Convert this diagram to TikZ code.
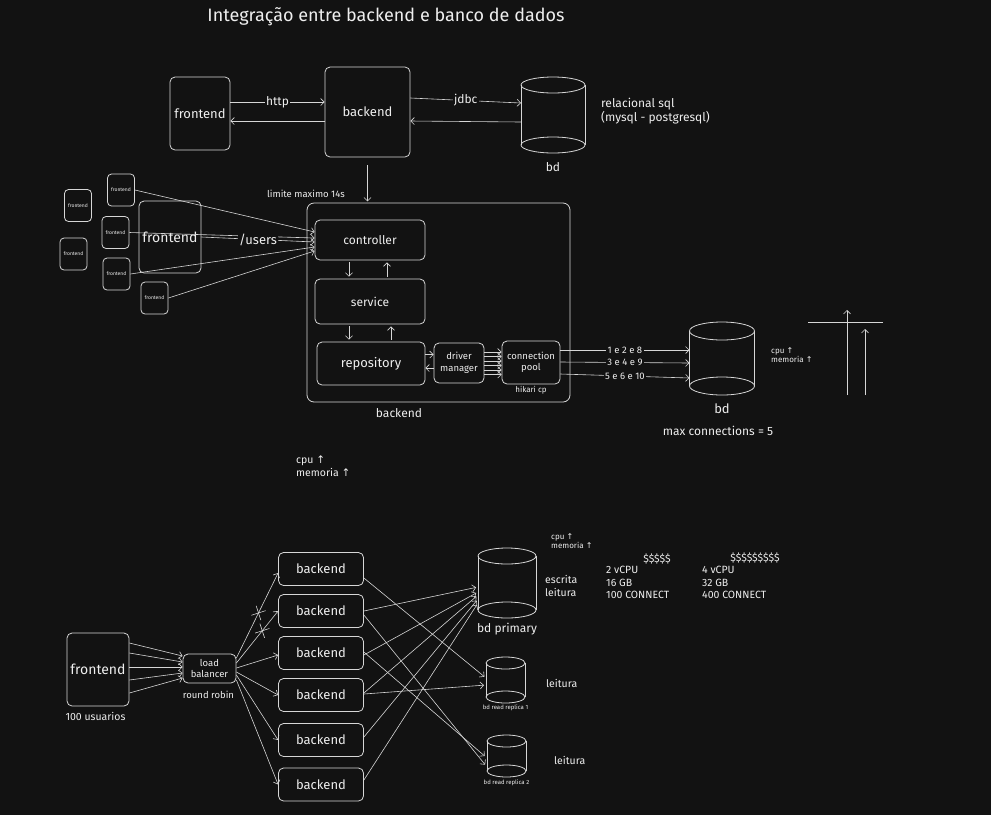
\documentclass[tikz,border=0pt]{standalone}
\usepackage{fontspec}
\setmainfont{Fira Sans}
\newfontfamily\symfont{DejaVu Sans}
\usepackage{tikz}
\usetikzlibrary{positioning,calc,arrows.meta,shapes.misc}
\definecolor{bgc}{HTML}{121212}
\definecolor{linec}{HTML}{D6D6D6}
\definecolor{txtc}{HTML}{EEEEEE}
\newcommand{\upar}{{\symfont ↑}}
% cylinder: name, position, width, height, ellipse radius
\newcommand{\dbcyl}[5]{%
  \node[minimum width=#3, minimum height=#4, inner sep=0pt, outer sep=0pt] (#1) at #2 {};
  \draw[dbline] ([yshift=-#5pt]#1.north) ellipse [x radius={#3*0.5pt}, y radius=#5pt];
  \draw[dbline] ([yshift=#5pt]#1.south) ellipse [x radius={#3*0.5pt}, y radius=#5pt];
  \draw[dbline] ([yshift=-#5pt]#1.north west) -- ([yshift=#5pt]#1.south west);
  \draw[dbline] ([yshift=-#5pt]#1.north east) -- ([yshift=#5pt]#1.south east);
}
\tikzset{
  box/.style={draw=linec, rounded corners=5pt, line width=0.8pt, text=txtc, align=center, inner sep=0pt},
  arr/.style={draw=linec, line width=0.6pt, -{Straight Barb[length=3.5pt,width=7pt]}},
  dbline/.style={draw=linec, line width=0.8pt},
  lbl/.style={text=txtc, inner sep=1pt, align=center},
  onln/.style={lbl, fill=bgc, inner sep=1.5pt},
  ftitle/.style={font=\fontsize{18}{21}\selectfont},
  fhuge/.style={font=\fontsize{14}{16}\selectfont},
  fbig/.style={font=\fontsize{13}{15}\selectfont},
  fmid/.style={font=\fontsize{12}{14}\selectfont},
  fnote/.style={font=\fontsize{10.5}{12.5}\selectfont},
  fsmall/.style={font=\fontsize{9.5}{11.5}\selectfont},
  ftiny/.style={font=\fontsize{8}{9.5}\selectfont},
  fmini/.style={font=\fontsize{6}{7}\selectfont},
  fmicro/.style={font=\fontsize{5}{6}\selectfont},
  xmark/.style={cross out, draw=linec, line width=0.6pt, minimum size=10pt, inner sep=0pt, rotate=-27}
}
\begin{document}
\begin{tikzpicture}[x=1pt,y=-1pt]
%background
\fill[bgc] (0,0) rectangle (991,815);
\useasboundingbox (0,0) rectangle (991,815);

%title
\node[lbl, ftitle] (title) at (386,17) {Integração entre backend e banco de dados};

%top row
\node[box, fbig, minimum width=60, minimum height=73] (fe) at (200,113.5) {frontend};
\node[box, fbig, minimum width=85, minimum height=90] (be) at (367.5,112) {backend};
\dbcyl{bd}{(553,115)}{64}{76}{8}
\node[lbl, fmid, below=8pt of bd] (bdlbl) {bd};
\node[lbl, fmid, align=left, anchor=west] (sqltxt) at (600,111) {relacional sql\\(mysql - postgresql)};

\draw[arr] ([yshift=11.5pt]fe.east) -- node[onln, fmid]{http} ([yshift=11.5pt]fe.east -| be.west);
\draw[arr] ([yshift=-9pt]be.west) -- ([yshift=-9pt]be.west -| fe.east);
\draw[arr] ([yshift=14pt]be.east) -- node[onln, fmid]{jdbc} ([yshift=12pt]bd.west);
\draw[arr] ([yshift=-7pt]bd.west) -- ([yshift=-9pt]be.east);
\draw[arr] ([yshift=-8pt]be.south) -- ++(0,36) coordinate (betop);

%backend layers
\node[lbl, fsmall] (limite) at (306,194) {limite maximo 14s};
\node[box, rounded corners=7pt, minimum width=263, minimum height=199] (bigbe) at (438.5,302.5) {};
\node[lbl, fmid] (bigbelbl) at (399,413) {backend};
\node[box, fmid, minimum width=110, minimum height=40] (ctrl) at (370,240) {controller};
\node[box, fmid, minimum width=110, minimum height=45] (svc) at (370,301.5) {service};
\node[box, fbig, minimum width=108, minimum height=43] (repo) at (371,363.5) {repository};
\node[box, fsmall, minimum width=50, minimum height=40] (drv) at (459,363) {driver\\manager};
\node[box, fsmall, minimum width=58, minimum height=43] (pool) at (531,362.5) {connection\\pool};
\node[lbl, ftiny, below=1pt of pool] (hikari) {hikari cp};

\draw[arr] ([xshift=-21pt,yshift=-2pt]ctrl.south) -- ([xshift=-21pt,yshift=2pt]ctrl.south |- svc.north);
\draw[arr] ([xshift=17pt,yshift=2pt]svc.north) -- ([xshift=17pt,yshift=-2pt]svc.north |- ctrl.south);
\draw[arr] ([xshift=-21pt,yshift=-2pt]svc.south) -- ([xshift=-21pt,yshift=2pt]svc.south |- repo.north);
\draw[arr] ([xshift=20pt,yshift=2pt]repo.north) -- ([xshift=20pt,yshift=-2pt]repo.north |- svc.south);
\draw[arr] ([yshift=9pt]repo.east) -- ([yshift=9pt]repo.east -| drv.west);
\draw[arr] ([yshift=-5pt]drv.west) -- ([yshift=-5pt]drv.west -| repo.east);
\foreach \s in {11,6.5,2,-2.5,-7,-11.5}
  \draw[arr] ([yshift=\s pt]drv.east) -- ([yshift=\s pt]drv.east -| pool.west);

%database middle
\dbcyl{bdm}{(722,358.5)}{65}{73}{9}
\node[lbl, fbig, below=8pt of bdm] (bdmlbl) {bd};
\node[lbl, fmid] (maxconn) at (718,431) {max connections = 5};
\node[lbl, ftiny, align=left, anchor=west] (cpum) at (770,355) {cpu \upar\\memoria \upar};
\draw[arr] ([yshift=12.5pt]pool.east) -- node[onln, fsmall]{1 e 2 e 8} ([yshift=8.5pt]bdm.west);
\draw[arr] ([yshift=0.5pt]pool.east) -- node[onln, fsmall]{3 e 4 e 9} ([yshift=-4.5pt]bdm.west);
\draw[arr] ([yshift=-11.5pt]pool.east) -- node[onln, fsmall]{5 e 6 e 10} ([yshift=-19.5pt]bdm.west);

%scale sketch
\coordinate (hl1) at (808,322);
\coordinate (hl2) at (883,322);
\coordinate (va1) at (847,395);
\coordinate (va2) at (847,310);
\coordinate (vb1) at (865,395);
\coordinate (vb2) at (865,329);
\draw[dbline] (hl1) -- (hl2);
\draw[arr] (va1) -- (va2);
\draw[arr] (vb1) -- (vb2);

%frontends left
\node[box, fhuge, minimum width=62, minimum height=72] (febig) at (170,237) {frontend};
\foreach \n/\x/\y in {1/121/190,2/78/205.5,3/115.5/232.5,4/73.5/254,5/116.5/274,6/154.5/298}
  \node[box, fmicro, rounded corners=4pt, minimum width=27, minimum height=32] (fs\n) at (\x,\y) {frontend};
\draw[arr] (fs1.east) -- ([yshift=8pt]ctrl.west);
\draw[arr] (fs3.east) -- ([yshift=2pt]ctrl.west);
\draw[arr] (febig.east) -- node[onln, fbig]{/users} ([yshift=-2pt]ctrl.west);
\draw[arr] (fs5.east) -- ([yshift=-7pt]ctrl.west);
\draw[arr] (fs6.east) -- ([yshift=-11pt]ctrl.west);

\node[lbl, fnote, align=left, anchor=west] (cpu) at (295,466) {cpu \upar\\memoria \upar};

%load balancing
\node[box, fhuge, minimum width=62, minimum height=73] (fe3) at (98,669.5) {frontend};
\node[lbl, fnote] (users) at (95.5,716) {100 usuarios};
\node[box, fsmall, minimum width=53, minimum height=29] (lb) at (209.5,668.5) {load\\balancer};
\node[lbl, fsmall] (rr) at (208.5,695) {round robin};
\foreach \a/\b in {26.5/12.5,16.5/6.5,2.5/1.5,-10.5/-4.5,-23.5/-9.5}
  \draw[arr] ([yshift=\a pt]fe3.east) -- ([yshift=\b pt]lb.west);

\foreach \n/\y in {1/569,2/611,3/653,4/695,5/740,6/784.5}
  \node[box, fbig, minimum width=85, minimum height=33] (b\n) at (321,\y) {backend};
\draw[arr] ([yshift=10.5pt]lb.east) -- node[xmark, pos=0.53]{} ([yshift=-4pt]b1.west);
\draw[arr] ([yshift=5.5pt]lb.east) -- node[xmark, pos=0.62]{} (b2.west);
\draw[arr] ([yshift=0.5pt]lb.east) -- ([yshift=-2pt]b3.west);
\draw[arr] ([yshift=-3.5pt]lb.east) -- (b4.west);
\draw[arr] ([yshift=-6.5pt]lb.east) -- (b5.west);
\draw[arr] ([yshift=-11.5pt]lb.east) -- (b6.west);

%databases bottom
\dbcyl{prim}{(507,583)}{58}{70}{8}
\node[lbl, fmid, below=4pt of prim] (primlbl) {bd primary};
\dbcyl{r1}{(505.5,680)}{39}{46}{6}
\node[lbl, fmini, below=1pt of r1] (r1lbl) {bd read replica 1};
\dbcyl{r2}{(506.5,756)}{39}{42}{6}
\node[lbl, fmini, below=1.5pt of r2] (r2lbl) {bd read replica 2};

\draw[arr, shorten >=2pt] (b2.east) -- ([yshift=-4pt]prim.west);
\draw[arr, shorten >=2pt] ([yshift=-2pt]b3.east) -- ([yshift=-9pt]prim.west);
\draw[arr, shorten >=2pt] ([yshift=2pt]b4.east) -- ([yshift=-12pt]prim.west);
\draw[arr, shorten >=2pt] ([yshift=3pt]b5.east) -- ([yshift=-16pt]prim.west);
\draw[arr, shorten >=2pt] ([yshift=4.5pt]b6.east) -- ([yshift=-20pt]prim.west);
\draw[arr, shorten >=2pt] ([yshift=-9pt]b1.east) -- ([yshift=2pt]r1.west);
\draw[arr, shorten >=2pt] ([yshift=1pt]b4.east) -- ([yshift=-5pt]r1.west);
\draw[arr, shorten >=3pt] ([yshift=-4pt]b2.east) -- ([yshift=-11pt]r2.west);
\draw[arr, shorten >=3pt] ([yshift=1pt]b3.east) -- ([yshift=-2pt]r2.west);

%notes
\node[lbl, ftiny, align=left, anchor=west] (cpub) at (550,541) {cpu \upar\\memoria \upar};
\node[lbl, fnote, align=left, anchor=west] (escrita) at (544,586) {escrita\\leitura};
\node[lbl, fnote, anchor=west] (leit1) at (545,683) {leitura};
\node[lbl, fnote, anchor=west] (leit2) at (553,760) {leitura};
\node[lbl, fnote] (cost1) at (657,559) {\$\$\$\$\$};
\node[lbl, fnote, align=left, anchor=north west] (spec1) at (605,565) {2 vCPU\\16 GB\\100 CONNECT};
\node[lbl, fnote] (cost2) at (755,558) {\$\$\$\$\$\$\$\$\$};
\node[lbl, fnote, align=left, anchor=north west] (spec2) at (701,565) {4 vCPU\\32 GB\\400 CONNECT};
\end{tikzpicture}
\end{document}
